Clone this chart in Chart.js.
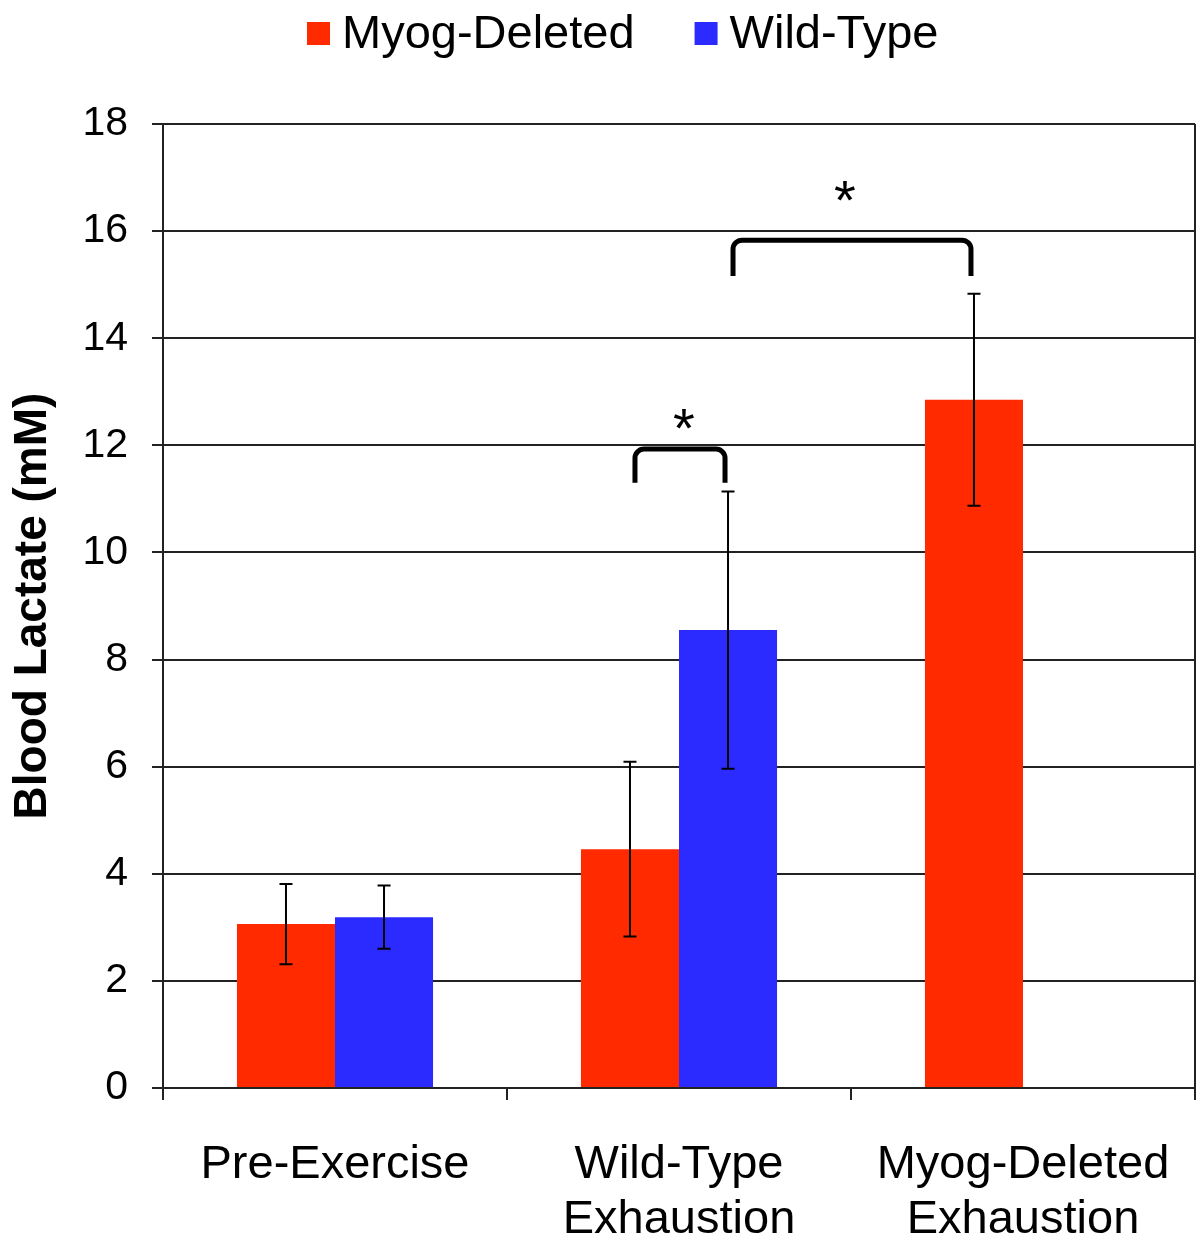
<!DOCTYPE html>
<html>
<head>
<meta charset="utf-8">
<title>Blood Lactate</title>
<script src="https://cdn.jsdelivr.net/npm/chart.js@4.4.1/dist/chart.umd.min.js"></script>
<style>
  html, body { margin: 0; padding: 0; background: #fff; }
  #wrap { width: 1201px; height: 1243px; }
</style>
</head>
<body>
<div id="wrap"><canvas id="lactate" width="1201" height="1243"></canvas></div>
<script>
// Groups on the x axis (multi-line labels)
const groups = [['Pre-Exercise'], ['Wild-Type', 'Exhaustion'], ['Myog-Deleted', 'Exhaustion']];

// Mean blood lactate (mM) and error (+/-) per genotype
const myogMeans = [3.06, 4.46, 12.85];
const myogErr = [0.75, 1.63, 1.98];
const wtMeans = [3.19, 8.55, null];
const wtErr = [0.59, 2.59, null];

// Significance brackets: [dataset, group] -> [dataset, group], bracket top, leg bottom, asterisk level
const brackets = [
  { from: [0, 1], to: [1, 1], top: 11.93, legs: 11.3, star: 12.57 },
  { from: [1, 1], to: [0, 2], top: 15.83, legs: 15.16, star: 16.82 }
];

const FONT = '"Liberation Sans", Arial, Helvetica, sans-serif';

// error bars with small caps, drawn on top of each bar
const errorBars = {
  id: 'errorBars',
  afterDatasetsDraw(chart) {
    const ctx = chart.ctx;
    const y = chart.scales.y;
    ctx.save();
    ctx.strokeStyle = '#000';
    ctx.lineWidth = 2;
    chart.data.datasets.forEach((ds, di) => {
      const meta = chart.getDatasetMeta(di);
      meta.data.forEach((bar, i) => {
        const v = ds.data[i];
        const e = ds.errors[i];
        if (v == null || e == null) return;
        const yHi = y.getPixelForValue(v + e);
        const yLo = y.getPixelForValue(v - e);
        ctx.beginPath();
        ctx.moveTo(bar.x, yHi);
        ctx.lineTo(bar.x, yLo);
        ctx.moveTo(bar.x - 6.5, yHi);
        ctx.lineTo(bar.x + 6.5, yHi);
        ctx.moveTo(bar.x - 6.5, yLo);
        ctx.lineTo(bar.x + 6.5, yLo);
        ctx.stroke();
      });
    });
    ctx.restore();
  }
};

// significance brackets with an asterisk above each one
const sigBrackets = {
  id: 'sigBrackets',
  afterDatasetsDraw(chart) {
    const ctx = chart.ctx;
    const y = chart.scales.y;
    const r = 9;
    ctx.save();
    ctx.strokeStyle = '#000';
    ctx.lineWidth = 5;
    brackets.forEach(b => {
      const left = chart.getDatasetMeta(b.from[0]).data[b.from[1]].x + 5;
      const right = chart.getDatasetMeta(b.to[0]).data[b.to[1]].x - 3;
      const top = y.getPixelForValue(b.top);
      const bottom = y.getPixelForValue(b.legs);
      ctx.beginPath();
      ctx.moveTo(left, bottom);
      ctx.lineTo(left, top + r);
      ctx.arcTo(left, top, left + r, top, r);
      ctx.lineTo(right - r, top);
      ctx.arcTo(right, top, right, top + r, r);
      ctx.lineTo(right, bottom);
      ctx.stroke();
      // asterisk glyph sits about 0.57em above the baseline
      ctx.fillStyle = '#000';
      ctx.font = '56px ' + FONT;
      ctx.textAlign = 'center';
      ctx.textBaseline = 'alphabetic';
      const cx = left + Math.min((right - left) / 2 + 4, 112);
      ctx.fillText('*', cx, y.getPixelForValue(b.star) + 32);
    });
    ctx.restore();
  }
};

// right-hand frame line of the plot area
const rightFrame = {
  id: 'rightFrame',
  afterDraw(chart) {
    const { ctx, chartArea } = chart;
    ctx.save();
    ctx.strokeStyle = '#222';
    ctx.lineWidth = 2;
    ctx.beginPath();
    ctx.moveTo(chartArea.right, chartArea.top);
    ctx.lineTo(chartArea.right, chartArea.bottom);
    ctx.stroke();
    ctx.restore();
  }
};

// legend row across the top
const topLegend = {
  id: 'topLegend',
  afterDraw(chart) {
    const ctx = chart.ctx;
    ctx.save();
    ctx.font = '47px ' + FONT;
    ctx.textBaseline = 'middle';
    ctx.textAlign = 'left';
    let x = 307;
    chart.data.datasets.forEach(ds => {
      ctx.fillStyle = ds.backgroundColor;
      ctx.fillRect(x, 22, 23, 23);
      ctx.fillStyle = '#000';
      ctx.fillText(ds.label, x + 35, 35);
      x += 35 + ctx.measureText(ds.label).width + 60;
    });
    ctx.restore();
  }
};

new Chart(document.getElementById('lactate').getContext('2d'), {
  type: 'bar',
  data: {
    labels: groups,
    datasets: [{
      label: 'Myog-Deleted',
      data: myogMeans,
      errors: myogErr,
      backgroundColor: '#ff2a00'
    }, {
      label: 'Wild-Type',
      data: wtMeans,
      errors: wtErr,
      backgroundColor: '#2b2bff'
    }]
  },
  options: {
    responsive: false,
    animation: false,
    events: [],
    categoryPercentage: 0.57,
    barPercentage: 1.0,
    layout: {
      padding: { top: 124, right: 6, bottom: 0, left: 0 }
    },
    plugins: {
      legend: { display: false },
      tooltip: { enabled: false }
    },
    scales: {
      x: {
        afterFit(scale) {
          scale.height = 155;
          // labels fit inside their groups, no side padding needed
          scale.paddingLeft = 0;
          scale.paddingRight = 0;
        },
        grid: {
          drawOnChartArea: false,
          drawTicks: true,
          tickLength: 12,
          color: '#222',
          lineWidth: 2
        },
        border: { color: '#222', width: 2 },
        ticks: {
          color: '#000',
          padding: 37,
          font: { family: FONT, size: 47, lineHeight: 1.18 }
        }
      },
      y: {
        afterFit(scale) { scale.width = 163; },
        min: 0,
        max: 18,
        ticks: {
          stepSize: 2,
          color: '#000',
          padding: 24,
          font: { family: FONT, size: 41 }
        },
        grid: {
          color: '#222',
          lineWidth: 2,
          drawTicks: true,
          tickLength: 11
        },
        border: { color: '#222', width: 2 },
        title: {
          display: true,
          text: 'Blood Lactate (mM)',
          color: '#000',
          padding: { top: 6, bottom: 0 },
          font: { family: FONT, size: 46, weight: 'bold', lineHeight: 1.2 }
        }
      }
    }
  },
  plugins: [errorBars, sigBrackets, rightFrame, topLegend]
});
</script>
</body>
</html>
